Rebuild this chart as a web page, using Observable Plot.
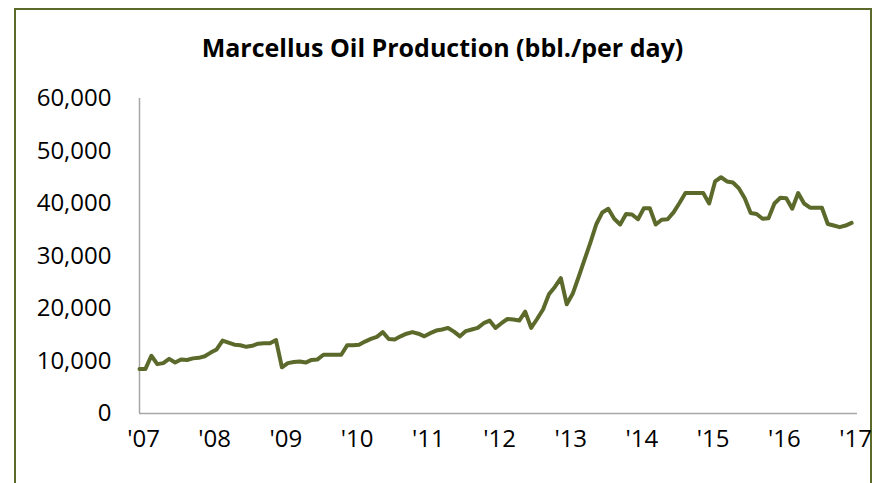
<!DOCTYPE html>
<html>
<head>
<meta charset="utf-8">
<script src="https://cdn.jsdelivr.net/npm/d3@7"></script>
<script src="https://cdn.jsdelivr.net/npm/@observablehq/plot@0.6"></script>
<style>
  html, body { margin: 0; padding: 0; background: #fff; }
  #wrap { position: relative; width: 885px; height: 483px; overflow: hidden; font-family: "Open Sans", "Noto Sans", sans-serif; }
  #frame { position: absolute; left: 14px; top: 8px; width: 858px; height: 500px; border: 2px solid #5b6a2b; box-sizing: border-box; }
  #title { position: absolute; left: 0; width: 885px; top: 30px; text-align: center; font-size: 25px; font-weight: 700; color: #000; }
  #chart { position: absolute; left: 0; top: 70px; }
</style>
</head>
<body>
<div id="wrap">
  <div id="frame"></div>
  <div id="title">Marcellus Oil Production (bbl./per day)</div>
  <div id="chart"></div>
</div>
<script>
// Monthly production, Jan 2007 .. Jan 2017 (bbl/day)
const production = [
  8500, 8500, 11000, 9400, 9600, 10400, 9700, 10300, 10200, 10500, 10600, 10900,
  11600, 12200, 13900, 13500, 13100, 13000, 12700, 12900, 13300, 13400, 13400, 14000,
  8800, 9600, 9800, 9900, 9700, 10200, 10300, 11200, 11200, 11200, 11200, 13000,
  13000, 13100, 13700, 14200, 14600, 15500, 14200, 14100, 14700, 15200, 15500, 15200,
  14700, 15300, 15800, 16000, 16300, 15600, 14700, 15700, 16000, 16300, 17200, 17700,
  16300, 17200, 18000, 17900, 17700, 19400, 16300, 18000, 19800, 22700, 24100, 25800,
  20800, 22800, 26000, 29300, 32600, 36100, 38300, 39000, 37100, 36000, 38000, 37900,
  37000, 39100, 39100, 36000, 36900, 37000, 38300, 40100, 42000, 42000, 42000, 42000,
  40000, 44200, 45000, 44200, 44000, 42900, 41000, 38200, 38000, 37100, 37200, 40000,
  41100, 41000, 39000, 42000, 40000, 39200, 39200, 39200, 36100, 35800, 35500, 35800,
  36300
];
const monthIndex = production.map((_, i) => i);
const yearTicks = [0, 12, 24, 36, 48, 60, 72, 84, 96, 108, 120];
const yearLabels = ["'07", "'08", "'09", "'10", "'11", "'12", "'13", "'14", "'15", "'16", "'17"];
const yTicks = [0, 10000, 20000, 30000, 40000, 50000, 60000];

const data = monthIndex.map(i => ({ m: i, v: production[i] }));

const chart = Plot.plot({
  width: 885,
  height: 413,
  marginLeft: 139,
  marginRight: 28,
  marginTop: 28,
  marginBottom: 70,
  style: { fontFamily: "'Open Sans', 'Noto Sans', sans-serif", fontSize: "24px", color: "#000", background: "transparent", overflow: "visible" },
  x: { domain: [0, 121], ticks: yearTicks, tickFormat: d => yearLabels[yearTicks.indexOf(d)] },
  y: { domain: [0, 60000], ticks: yTicks, tickFormat: d3.format(",") },
  marks: [
    Plot.axisX({ ticks: yearTicks, tickFormat: d => yearLabels[yearTicks.indexOf(d)], tickSize: 0, tickPadding: 16, fontSize: 24, dx: 4, label: null }),
    Plot.axisY({ ticks: yTicks, tickFormat: d3.format(","), tickSize: 0, tickPadding: 28, fontSize: 24, label: null }),
    Plot.ruleX([0], { stroke: "#a6a6a6", strokeWidth: 1.5 }),
    Plot.ruleY([0], { stroke: "#a6a6a6", strokeWidth: 1.5 }),
    Plot.line(data, { x: "m", y: "v", stroke: "#5b6a2b", strokeWidth: 4, strokeLinejoin: "round", strokeLinecap: "round" })
  ]
});
document.getElementById("chart").appendChild(chart);
</script>
</body>
</html>
